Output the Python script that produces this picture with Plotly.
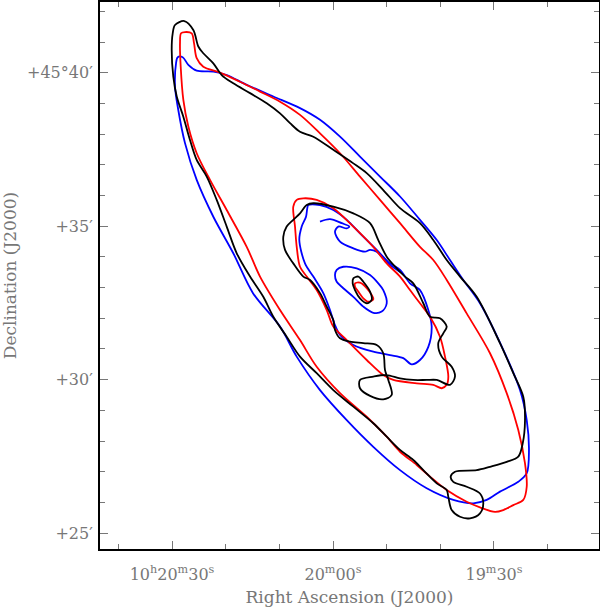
import plotly.graph_objects as go

# RA in seconds past 10h19m00s, Dec in arcmin past +45°00'
black_outer_ra = [87.71, 86.03, 85.10, 84.17, 82.30, 80.74, 78.58, 75.46, 72.35, 69.87, 68.01, 66.15, 63.67, 59.94, 56.21, 53.72, 50.63, 47.51, 43.79, 41.31, 38.81, 36.33, 33.22, 28.88, 26.40, 24.54, 24.22, 24.65, 25.47, 27.63, 30.74, 33.22, 37.27, 38.07, 37.58, 35.09, 32.61, 31.99, 32.61, 34.47, 36.33, 37.88, 38.51, 38.81, 40.67, 43.17, 45.04, 47.51, 49.99, 52.49, 56.21, 59.94, 63.04, 66.15, 68.63, 71.12, 72.99, 75.46, 77.94, 79.81, 81.67, 83.53, 85.40, 86.65, 87.89, 89.12, 89.76, 90.06, 89.87, 89.44, 87.71]
black_outer_dec = [41.69, 41.40, 40.86, 40.64, 40.31, 39.93, 39.66, 39.34, 39.01, 38.68, 38.36, 38.08, 37.92, 37.49, 37.05, 36.73, 36.18, 35.59, 35.10, 34.55, 33.90, 33.36, 32.70, 31.19, 30.21, 29.44, 28.68, 27.92, 27.49, 27.32, 27.16, 27.05, 27.00, 26.84, 26.67, 26.51, 26.29, 25.97, 25.64, 25.48, 25.53, 25.75, 26.18, 26.40, 26.62, 27.05, 27.38, 27.71, 28.14, 28.58, 29.12, 29.66, 30.21, 30.75, 31.40, 32.05, 32.70, 33.36, 34.12, 34.99, 35.86, 36.62, 37.16, 37.81, 38.57, 39.23, 39.88, 40.75, 41.29, 41.56, 41.69]

red_outer_ra = [87.58, 86.33, 85.90, 85.40, 84.17, 81.06, 77.33, 73.60, 69.87, 66.15, 62.42, 58.69, 54.97, 51.24, 47.51, 43.79, 41.31, 38.81, 35.09, 30.74, 27.63, 25.47, 24.22, 23.90, 24.54, 26.40, 28.26, 29.81, 32.61, 35.09, 38.81, 41.92, 44.40, 47.51, 49.99, 53.72, 58.69, 63.04, 66.15, 69.87, 73.60, 76.08, 79.81, 82.92, 85.40, 86.96, 87.89, 88.38, 88.51, 88.32, 87.58]
red_outer_dec = [41.33, 41.29, 40.97, 40.48, 40.20, 40.01, 39.71, 39.39, 39.06, 38.63, 38.03, 37.38, 36.62, 35.86, 35.10, 34.33, 33.90, 33.25, 32.16, 30.86, 29.56, 28.36, 27.27, 26.51, 26.08, 25.91, 25.75, 25.69, 25.84, 26.02, 26.40, 26.84, 27.22, 27.65, 28.14, 28.79, 29.56, 30.42, 31.29, 32.27, 33.36, 34.33, 35.53, 36.51, 37.38, 38.25, 39.12, 40.20, 40.97, 41.29, 41.33]

blue_outer_ra = [88.94, 88.01, 86.96, 85.40, 82.30, 79.81, 76.08, 71.12, 66.15, 62.42, 58.69, 54.97, 51.24, 47.51, 43.79, 40.67, 38.20, 35.72, 32.61, 28.26, 25.15, 23.90, 23.48, 23.90, 25.47, 28.88, 31.36, 33.85, 37.58, 42.54, 47.51, 52.49, 57.44, 62.42, 66.76, 69.87, 74.91, 78.58, 82.30, 85.40, 87.58, 88.83, 89.44, 89.25, 88.94]
blue_outer_dec = [40.51, 40.51, 40.26, 40.07, 40.04, 39.93, 39.61, 39.23, 38.85, 38.47, 37.92, 37.27, 36.62, 35.97, 35.21, 34.55, 33.90, 33.25, 32.49, 30.97, 29.66, 28.68, 27.71, 26.95, 26.67, 26.35, 26.08, 25.97, 26.08, 26.46, 27.05, 27.81, 28.68, 29.66, 30.75, 31.73, 32.82, 34.12, 35.31, 36.51, 37.71, 38.79, 39.55, 40.31, 40.51]

black_mid_ra = [63.67, 59.94, 56.21, 53.10, 51.56, 49.99, 48.13, 46.58, 45.04, 43.17, 41.92, 40.06, 38.81, 39.45, 40.38, 39.74, 37.88, 37.27, 38.20, 40.67, 42.54, 45.04, 47.51, 49.99, 52.49, 54.97, 54.97, 53.10, 50.63, 49.06, 49.69, 50.31, 50.63, 51.86, 54.35, 56.83, 58.69, 59.63, 59.94, 61.17, 62.42, 64.28, 65.53, 67.40, 68.94, 69.26, 68.63, 67.40, 66.15, 64.90, 63.67]
black_mid_dec = [35.75, 35.64, 35.42, 35.10, 34.55, 34.01, 33.63, 33.36, 33.14, 32.49, 32.05, 32.00, 31.73, 31.51, 31.19, 30.75, 30.42, 30.10, 29.83, 29.99, 29.99, 29.99, 30.04, 30.15, 30.10, 29.99, 29.72, 29.47, 29.36, 29.50, 29.99, 30.31, 30.86, 31.13, 31.19, 31.24, 31.35, 31.62, 31.94, 32.38, 32.82, 33.25, 33.36, 33.79, 34.23, 34.66, 34.99, 35.21, 35.42, 35.69, 35.75]

red_mid_ra = [65.53, 63.04, 59.94, 56.21, 52.49, 49.99, 47.51, 45.65, 43.79, 41.92, 40.06, 39.13, 38.51, 38.81, 39.74, 41.31, 44.40, 48.76, 50.63, 53.72, 57.44, 59.94, 61.17, 63.04, 64.90, 66.15, 66.76, 67.08, 67.40, 66.76, 65.53]
red_mid_dec = [35.91, 35.86, 35.59, 34.99, 34.33, 33.79, 33.36, 32.92, 32.49, 32.05, 31.40, 30.75, 30.10, 29.83, 29.72, 29.83, 29.88, 29.99, 30.15, 30.64, 31.29, 31.73, 32.27, 32.92, 33.36, 33.68, 34.33, 34.99, 35.64, 35.86, 35.91]

blue_mid_ra = [64.60, 62.42, 59.94, 57.44, 54.97, 51.86, 49.38, 47.51, 45.65, 43.79, 42.24, 41.61, 42.24, 43.79, 45.33, 46.90, 49.38, 52.49, 56.21, 58.69, 59.63, 60.56, 61.81, 63.67, 65.22, 66.28, 65.83, 65.03, 64.79, 64.60]
blue_mid_dec = [35.69, 35.69, 35.53, 35.21, 34.77, 34.23, 33.79, 33.58, 33.14, 32.92, 32.27, 31.73, 31.07, 30.64, 30.50, 30.70, 30.80, 30.91, 31.13, 31.46, 31.78, 32.27, 32.82, 33.36, 33.79, 34.55, 34.99, 35.31, 35.59, 35.69]

blue_hook_ra = [62.42, 60.56, 58.38, 56.96, 57.44, 59.01, 59.63, 58.69, 56.21, 54.04, 53.10, 51.86, 50.31, 49.38, 47.51]
blue_hook_dec = [35.15, 35.23, 35.10, 34.99, 34.93, 34.99, 34.82, 34.50, 34.28, 34.17, 34.23, 34.17, 33.90, 33.74, 33.51]

blue_in_ra = [58.08, 55.58, 53.10, 51.56, 50.63, 49.99, 50.92, 52.49, 54.35, 56.21, 58.08, 59.31, 59.63, 59.31, 58.08]
blue_in_dec = [33.68, 33.63, 33.41, 33.14, 32.92, 32.49, 32.22, 32.18, 32.38, 32.70, 32.98, 33.19, 33.41, 33.58, 33.68]

black_in_ra = [56.21, 55.28, 54.35, 53.10, 52.79, 53.72, 54.97, 55.90, 56.33, 56.21]
black_in_dec = [33.30, 33.36, 33.19, 32.87, 32.60, 32.49, 32.65, 32.92, 33.14, 33.30]

red_in_ra = [55.90, 54.97, 53.72, 52.49, 53.42, 54.35, 55.28, 55.90, 55.90]
red_in_dec = [33.14, 33.16, 32.98, 32.62, 32.54, 32.65, 32.87, 33.03, 33.14]

x_tickvals = [90, 60, 30]
x_ticktext = ["10<sup>h</sup>20<sup>m</sup>30<sup>s</sup>", "20<sup>m</sup>00<sup>s</sup>", "19<sup>m</sup>30<sup>s</sup>"]
x_minor = [100, 80, 70, 50, 40, 20]
y_tickvals = [25, 30, 35, 40]
y_ticktext = ["+25′", "+30′", "+35′", "+45°40′"]
y_minor = [26, 27, 28, 29, 31, 32, 33, 34, 36, 37, 38, 39, 41, 42]

traces = [
    (blue_outer_ra, blue_outer_dec, "blue"),
    (red_outer_ra, red_outer_dec, "red"),
    (black_outer_ra, black_outer_dec, "black"),
    (blue_mid_ra, blue_mid_dec, "blue"),
    (blue_hook_ra, blue_hook_dec, "blue"),
    (blue_in_ra, blue_in_dec, "blue"),
    (red_mid_ra, red_mid_dec, "red"),
    (red_in_ra, red_in_dec, "red"),
    (black_mid_ra, black_mid_dec, "black"),
    (black_in_ra, black_in_dec, "black"),
]

fig = go.Figure()
for xs, ys, c in traces:
    fig.add_trace(go.Scatter(x=xs, y=ys, mode="lines",
                             line=dict(color=c, width=1.8, shape="spline", smoothing=0.9),
                             showlegend=False, hoverinfo="skip"))

font_fam = "DejaVu Serif"
tick_col = "#777777"
fig.update_layout(
    width=600, height=607,
    margin=dict(l=100, r=1, t=2, b=58),
    paper_bgcolor="white", plot_bgcolor="white",
    font=dict(family=font_fam, color=tick_col),
    xaxis=dict(range=[103.42, 10.43], tickvals=x_tickvals, ticktext=x_ticktext,
               ticks="inside", ticklen=8, tickwidth=1, tickcolor="#777",
               minor=dict(tickvals=x_minor, ticks="inside", ticklen=5, tickcolor="#777"),
               showline=True, linecolor="black", linewidth=2, mirror="allticks",
               showgrid=False, zeroline=False, automargin=False,
               tickfont=dict(size=16, color=tick_col, family=font_fam),
               ticklabelstandoff=10,
               title=dict(text="Right Ascension (J2000)", font=dict(size=17, color=tick_col, family=font_fam), standoff=8)),
    yaxis=dict(range=[24.48, 42.31], tickvals=y_tickvals, ticktext=y_ticktext,
               ticks="inside", ticklen=8, tickwidth=1, tickcolor="#777",
               minor=dict(tickvals=y_minor, ticks="inside", ticklen=5, tickcolor="#777"),
               showline=True, linecolor="black", linewidth=2, mirror="allticks",
               showgrid=False, zeroline=False, automargin=False,
               tickfont=dict(size=16, color=tick_col, family=font_fam),
               ticklabelstandoff=2,
               title=dict(text="Declination (J2000)", font=dict(size=17, color=tick_col, family=font_fam), standoff=10)),
)

fig.write_html("out.html", config={"displayModeBar": False},
               post_script="document.body.style.margin='0';document.body.style.padding='0';document.body.style.overflow='hidden';")
